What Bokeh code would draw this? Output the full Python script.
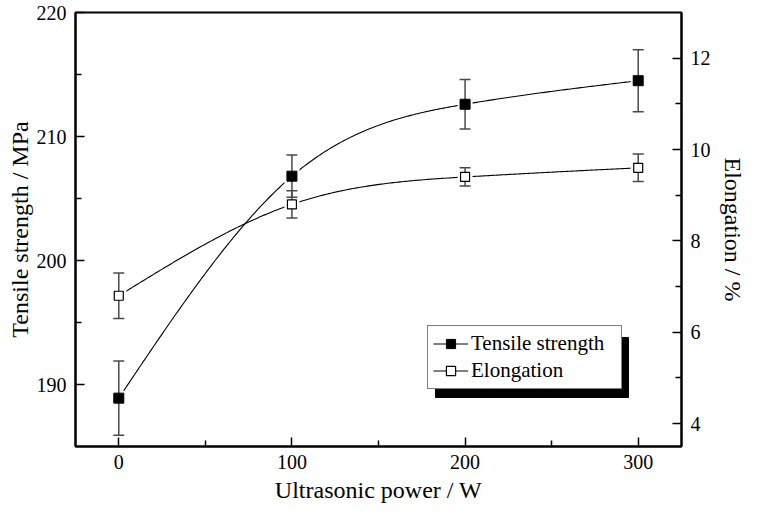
import numpy as np
from bokeh.plotting import figure
from bokeh.models import Range1d, LinearAxis, FixedTicker, Legend, LegendItem, Title
from bokeh.embed import file_html
from bokeh.resources import INLINE

# ---- data ----
power = [0, 100, 200, 300]
tensile = [188.9, 206.8, 212.6, 214.5]
tensile_err = [3.0, 1.7, 2.0, 2.5]
elong = [6.8, 8.8, 9.4, 9.6]
elong_err = [0.5, 0.3, 0.2, 0.3]

x_major = [0, 100, 200, 300]
x_minor = [50, 150, 250]
yl_major = [190, 200, 210, 220]
yl_minor = [195, 205, 215]
yr_major = [4, 6, 8, 10, 12]
yr_minor = [5, 7, 9, 11]

FONT = "Liberation Serif"
X0, X1 = -25, 325
YL0, YL1 = 185, 220
YR0, YR1 = 3.5, 13


def natural_spline(xs, ys, n=300):
    xs = np.asarray(xs, float)
    ys = np.asarray(ys, float)
    k = len(xs)
    h = np.diff(xs)
    A = np.zeros((k, k))
    b = np.zeros(k)
    A[0, 0] = A[-1, -1] = 1
    for i in range(1, k - 1):
        A[i, i - 1] = h[i - 1]
        A[i, i] = 2 * (h[i - 1] + h[i])
        A[i, i + 1] = h[i]
        b[i] = 6 * ((ys[i + 1] - ys[i]) / h[i] - (ys[i] - ys[i - 1]) / h[i - 1])
    M = np.linalg.solve(A, b)
    xx = np.linspace(xs[0], xs[-1], n)
    idx = np.clip(np.searchsorted(xs, xx) - 1, 0, k - 2)
    x0 = xs[idx]
    x1 = xs[idx + 1]
    hh = x1 - x0
    t1 = x1 - xx
    t0 = xx - x0
    yy = (M[idx] * t1 ** 3 / (6 * hh) + M[idx + 1] * t0 ** 3 / (6 * hh)
          + (ys[idx] / hh - M[idx] * hh / 6) * t1
          + (ys[idx + 1] / hh - M[idx + 1] * hh / 6) * t0)
    return xx, yy


BL, BR, BT, BB = 75, 61, 12, 57
FW, FH = 606, 503 - 12 - 57

p = figure(frame_width=FW, frame_height=FH, x_range=Range1d(X0, X1), y_range=Range1d(YL0, YL1),
           output_backend="svg", toolbar_location=None,
           min_border_left=BL, min_border_right=BR, min_border_top=BT, min_border_bottom=BB,
           x_axis_label="Ultrasonic power / W")
p.extra_y_ranges = {"el": Range1d(YR0, YR1)}
p.add_layout(LinearAxis(y_range_name="el", axis_label="Elongation / %"), "right")
p.add_layout(Title(text="Tensile strength / MPa", align="center", offset=34, standoff=2,
                   text_font=FONT, text_font_size="24px", text_font_style="normal",
                   text_color="black"), "left")

p.grid.visible = False
p.outline_line_color = "black"
p.outline_line_width = 2
p.background_fill_color = "white"
p.border_fill_color = "white"

p.xaxis.ticker = FixedTicker(ticks=x_major, minor_ticks=x_minor)
p.yaxis[0].ticker = FixedTicker(ticks=yl_major, minor_ticks=yl_minor)
p.yaxis[1].ticker = FixedTicker(ticks=yr_major, minor_ticks=yr_minor)

for ax in p.axis:
    ax.axis_line_color = "black"
    ax.axis_line_width = 2
    ax.major_tick_in = 9
    ax.major_tick_out = 0
    ax.minor_tick_in = 6
    ax.minor_tick_out = 0
    ax.major_tick_line_width = 1.5
    ax.minor_tick_line_width = 1.5
    ax.major_tick_line_color = "black"
    ax.minor_tick_line_color = "black"
    ax.major_label_text_font = FONT
    ax.major_label_text_font_size = "20px"
    ax.major_label_text_color = "black"
    ax.axis_label_text_font = FONT
    ax.axis_label_text_font_size = "24px"
    ax.axis_label_text_font_style = "normal"
    ax.axis_label_text_color = "black"

p.xaxis.major_label_standoff = 8
p.xaxis.axis_label_standoff = 5
p.yaxis[0].major_label_standoff = 9
p.yaxis[1].major_label_standoff = 9
p.yaxis[1].axis_label_standoff = 6

# ---- curves ----
sx, sy = natural_spline(power, tensile)
ex, ey = natural_spline(power, elong)
l_t = p.line(sx, sy, line_color="black", line_width=1.1)
l_e = p.line(ex, ey, line_color="black", line_width=1.1, y_range_name="el")

# white gaps around markers
g_t = p.scatter(power, tensile, marker="square", size=15, fill_color="white", line_color=None)
g_e = p.scatter(power, elong, marker="square", size=15, fill_color="white", line_color=None,
                y_range_name="el")

# ---- error bars ----
ERR = "#4a4a4a"
t_lo = [v - e for v, e in zip(tensile, tensile_err)]
t_hi = [v + e for v, e in zip(tensile, tensile_err)]
e_lo = [v - e for v, e in zip(elong, elong_err)]
e_hi = [v + e for v, e in zip(elong, elong_err)]
p.segment(power, t_lo, power, t_hi, line_color=ERR, line_width=1.5)
p.scatter(power + power, t_lo + t_hi, marker="dash", size=11, line_color=ERR, line_width=1.5)
p.segment(power, e_lo, power, e_hi, line_color=ERR, line_width=1.5, y_range_name="el")
p.scatter(power + power, e_lo + e_hi, marker="dash", size=11, line_color=ERR, line_width=1.5,
          y_range_name="el")

# ---- markers ----
m_t = p.scatter(power, tensile, marker="square", size=10, fill_color="black", line_color="black")
m_e = p.scatter(power, elong, marker="square", size=9, fill_color="white", line_color="black",
                line_width=1.2, y_range_name="el")

# ---- legend with shadow ----
LX, LY = 352, 57          # legend box bottom-left, px from frame bottom-left
LWID, LHGT = 193, 60
SH = 8
sx0 = X0 + (LX + SH) * (X1 - X0) / FW
sx1 = X0 + (LX + LWID + SH) * (X1 - X0) / FW
sy0 = YL0 + (LY - SH) * (YL1 - YL0) / FH
sy1 = YL0 + (LY + LHGT - SH) * (YL1 - YL0) / FH
p.quad(left=[sx0], right=[sx1], bottom=[sy0], top=[sy1], fill_color="black", line_color="black")

legend = Legend(items=[LegendItem(label="Tensile strength", renderers=[l_t, g_t, m_t]),
                       LegendItem(label="Elongation", renderers=[l_e, g_e, m_e])],
                location=(LX, LY))
legend.border_line_color = "black"
legend.border_line_width = 1
legend.background_fill_color = "white"
legend.background_fill_alpha = 1
legend.label_text_font = FONT
legend.label_text_font_size = "21px"
legend.label_text_color = "black"
legend.padding = 5
legend.spacing = 2
legend.margin = 0
legend.glyph_width = 35
legend.glyph_height = 23
legend.label_height = 23
legend.label_standoff = 3
legend.label_width = 145
p.add_layout(legend)

open("out.html", "w").write(file_html(p, INLINE))
